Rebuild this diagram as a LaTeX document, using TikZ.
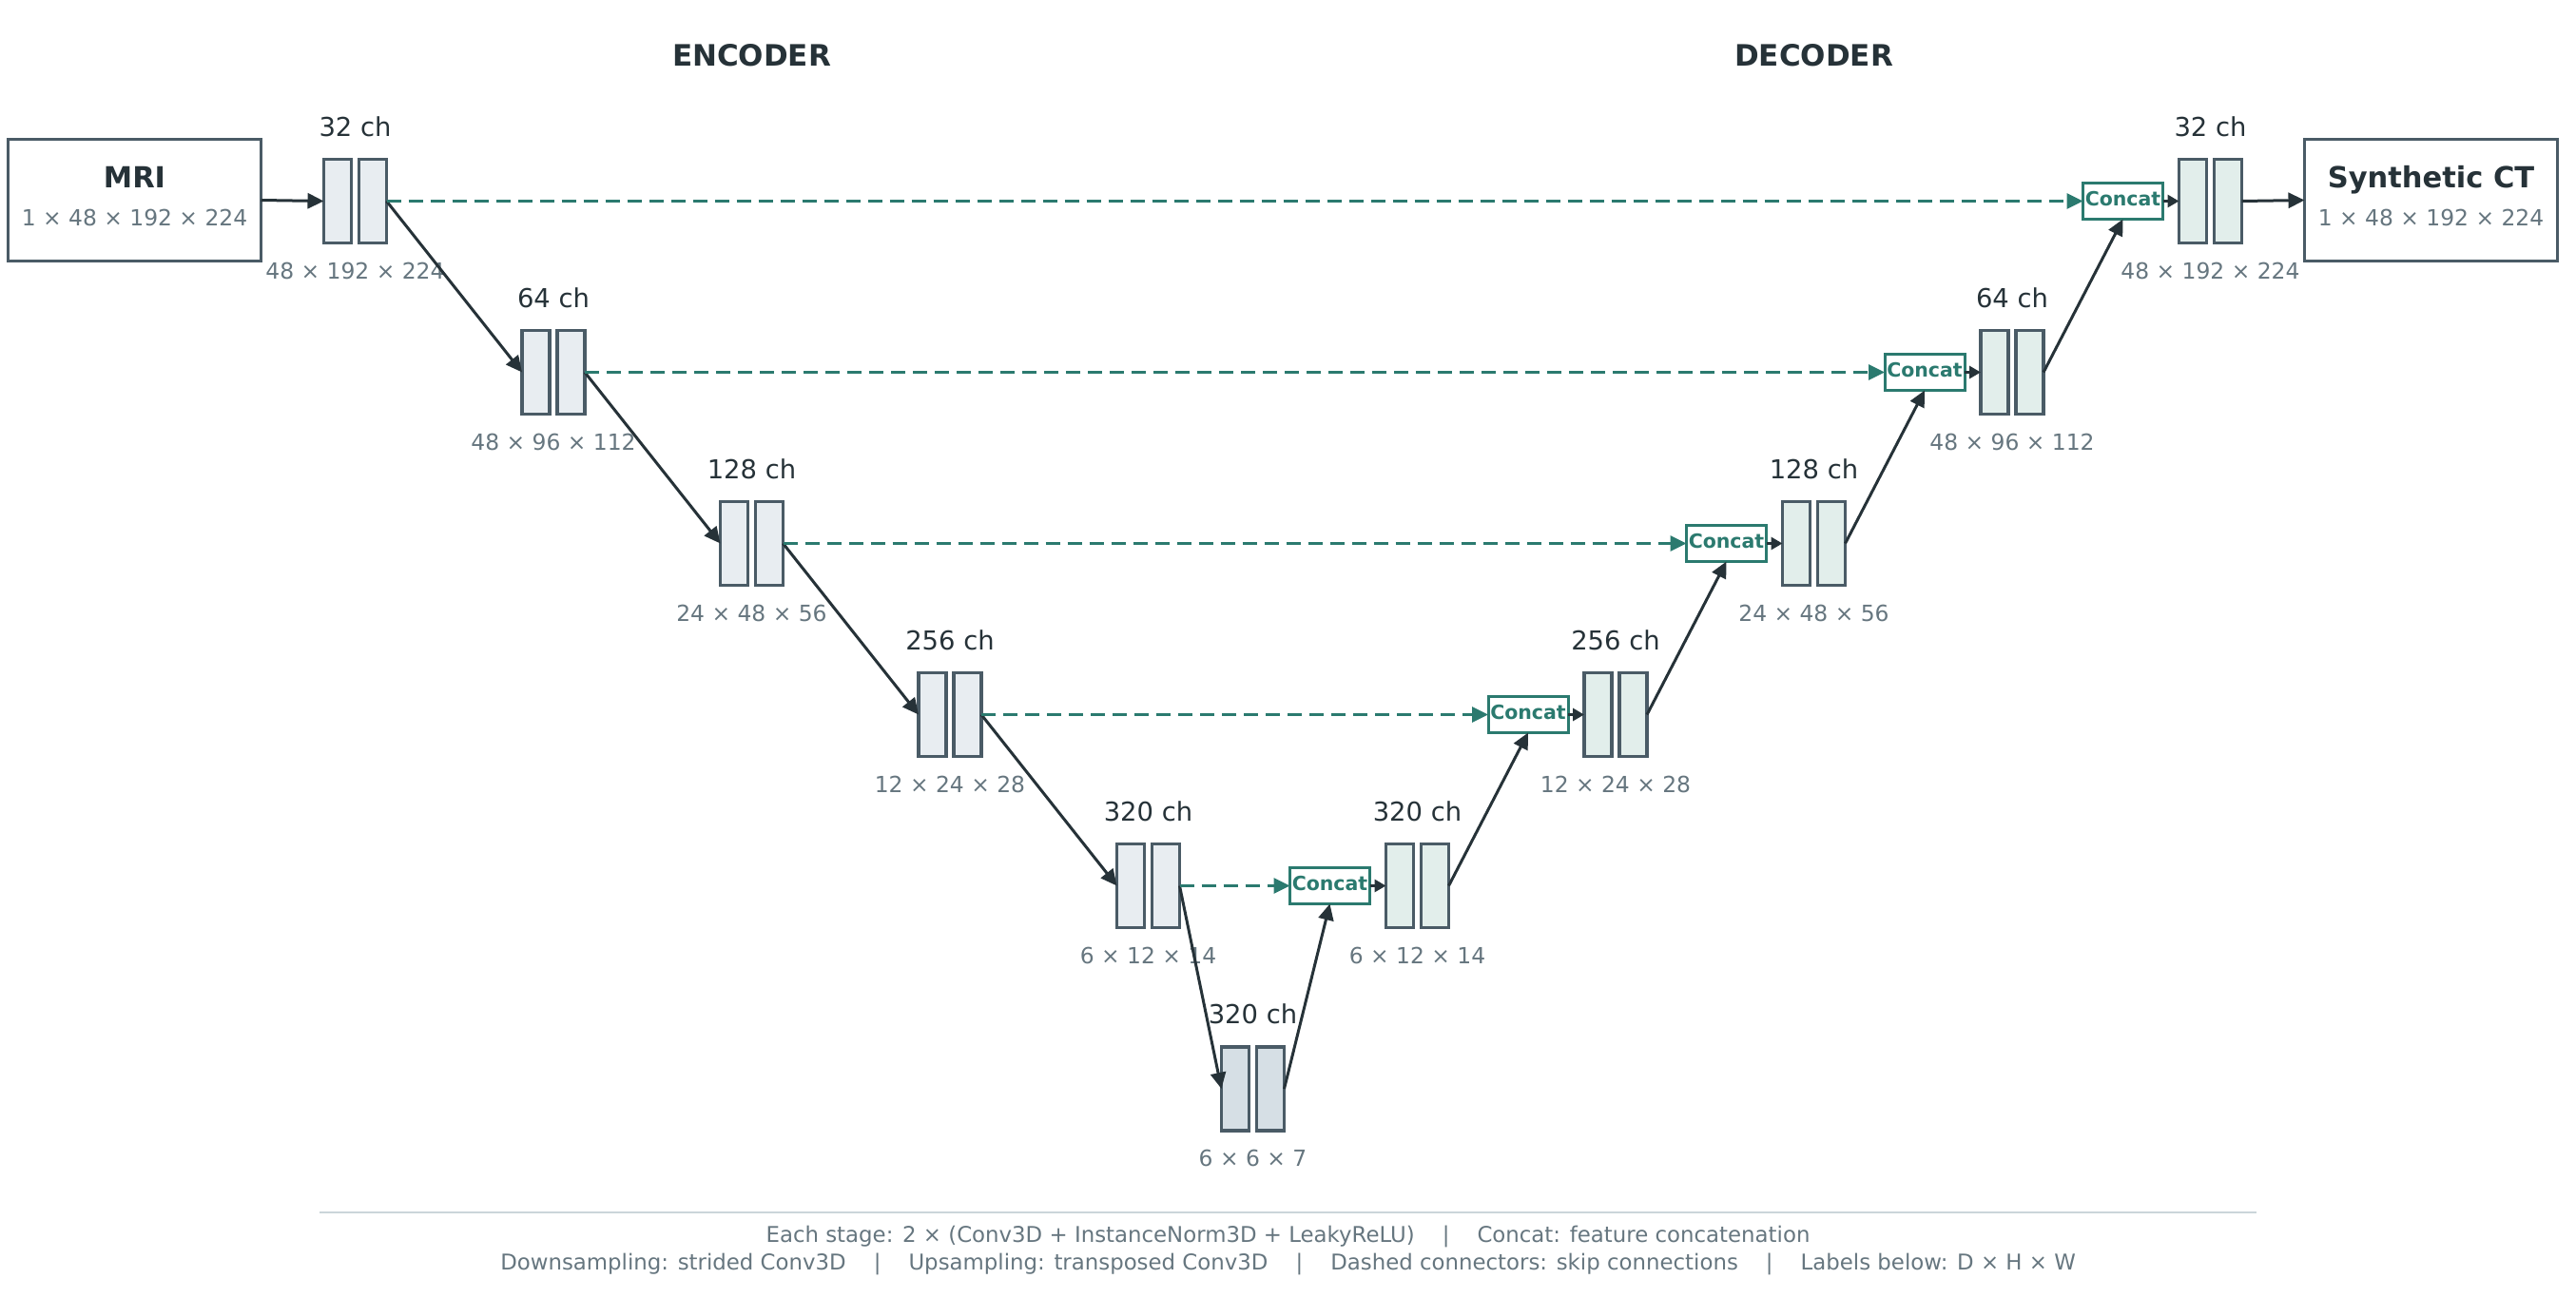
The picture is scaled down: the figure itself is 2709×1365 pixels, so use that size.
\documentclass[tikz,border=0pt]{standalone}
\usepackage{fontspec}
\setmainfont{DejaVu Sans}
\usetikzlibrary{arrows.meta}
\definecolor{ink}{HTML}{263238}
\definecolor{edgec}{HTML}{4A5B66}
\definecolor{dimc}{HTML}{66767F}
\definecolor{encfill}{HTML}{E8EDF1}
\definecolor{decfill}{HTML}{E2EEEB}
\definecolor{botfill}{HTML}{D6DFE5}
\definecolor{tealc}{HTML}{2B7A6F}
\definecolor{rulec}{HTML}{CBD5DA}
\begin{document}
\begin{tikzpicture}[x=1pt,y=-1pt,
  blk/.style={draw=edgec, line width=3.2pt, minimum width=29pt, minimum height=88pt, inner sep=0pt, outer sep=0pt},
  iobox/.style={draw=edgec, line width=3.2pt, fill=white, minimum width=266pt, minimum height=128pt, inner sep=0pt, outer sep=0pt},
  catbox/.style={draw=tealc, line width=3pt, fill=white, minimum width=84pt, minimum height=38pt, inner sep=0pt, outer sep=0pt,
    text=tealc, font=\bfseries\fontsize{20.5}{24}\selectfont, text height=15pt, text depth=5pt},
  chlab/.style={anchor=base, inner sep=0pt, text=ink, font=\fontsize{27.4}{32}\selectfont},
  dimlab/.style={anchor=base, inner sep=0pt, text=dimc, font=\fontsize{23.4}{28}\selectfont},
  iotitle/.style={anchor=base, inner sep=0pt, text=ink, font=\bfseries\fontsize{30.5}{36}\selectfont},
  sectitle/.style={anchor=base, inner sep=0pt, text=ink, font=\bfseries\fontsize{31}{36}\selectfont},
  foot/.style={anchor=base, inner sep=0pt, text=dimc, font=\fontsize{22.85}{28}\selectfont},
  arr/.style={draw=ink, line width=3pt, -{Triangle[length=17pt,width=16pt]}},
  carr/.style={draw=ink, line width=3pt, -{Triangle[length=12pt,width=13pt]}},
  skip/.style={draw=tealc, line width=3pt, dash pattern=on 15pt off 8pt, -{Triangle[length=17pt,width=16pt]}}
]
\useasboundingbox (0,0) rectangle (2709,1365);

% titles
\node[sectitle] (tenc) at (790.5,69) {ENCODER};
\node[sectitle] (tdec) at (1907.5,69) {DECODER};

% input / output boxes
\node[iobox] (mri) at (141.5,210.5) {};
\node[iotitle] (mrit) at (141.5,197) {MRI};
\node[dimlab] (mrid) at (141.5,237) {1 × 48 × 192 × 224};
\node[iobox] (sct) at (2556.5,210.5) {};
\node[iotitle] (sctt) at (2556.5,197) {Synthetic CT};
\node[dimlab] (sctd) at (2556.5,237) {1 × 48 × 192 × 224};

% encoder and decoder stages
\foreach \k/\ch/\dm in {0/32/48 × 192 × 224, 1/64/48 × 96 × 112, 2/128/24 × 48 × 56, 3/256/12 × 24 × 28, 4/320/6 × 12 × 14} {
  \pgfmathsetmacro\L{339+208.5*\k}
  \pgfmathsetmacro\D{1456+208.5*(4-\k)}
  \pgfmathsetmacro\Y{211.5+180*\k}
  \node[blk, fill=encfill] (ea\k) at (\L+16,\Y) {};
  \node[blk, fill=encfill] (eb\k) at (\L+53,\Y) {};
  \node[chlab] (ech\k) at (\L+34.5,\Y-68.5) {\ch\ ch};
  \node[dimlab] (edm\k) at (\L+34.5,\Y+81.5) {\dm};
  \node[blk, fill=decfill] (da\k) at (\D+16,\Y) {};
  \node[blk, fill=decfill] (db\k) at (\D+53,\Y) {};
  \node[chlab] (dch\k) at (\D+34.5,\Y-68.5) {\ch\ ch};
  \node[dimlab] (ddm\k) at (\D+34.5,\Y+81.5) {\dm};
  \node[catbox] (c\k) at (\D-57.5,\Y) {Concat};
}

% bottleneck
\node[blk, fill=botfill] (ba) at (1299,1145) {};
\node[blk, fill=botfill] (bb) at (1336,1145) {};
\node[chlab] (bch) at (1317.5,1076.5) {320 ch};
\node[dimlab] (bdm) at (1317.5,1226.5) {6 × 6 × 7};

% connectors
\draw[arr] (mri.east) -- (ea0.west);
\draw[arr] (db0.east) -- (sct.west);
\foreach \k in {0,...,3} {
  \pgfmathtruncatemacro\n{\k+1}
  \draw[arr] (eb\k.east) -- (ea\n.west);
  \draw[arr] (db\n.east) -- (c\k.south);
}
\draw[arr] (eb4.east) -- (ba.west);
\draw[arr] (bb.east) -- (c4.south);
\foreach \k in {0,...,4} {
  \draw[skip] (eb\k.east) -- (c\k.west);
  \draw[carr] (c\k.east) -- (da\k.west);
}

% footer
\coordinate (rl) at (336,1275);
\coordinate (rr) at (2373,1275);
\draw[rulec, line width=2pt] (rl) -- (rr);
\node[foot] (f1) at (1354.5,1306) {Each stage: 2 × (Conv3D + InstanceNorm3D + LeakyReLU)\hspace{29pt}|\hspace{29pt}Concat: feature concatenation};
\node[foot] (f2) at (1354.5,1335) {Downsampling: strided Conv3D\hspace{29pt}|\hspace{29pt}Upsampling: transposed Conv3D\hspace{29pt}|\hspace{29pt}Dashed connectors: skip connections\hspace{29pt}|\hspace{29pt}Labels below: D × H × W};
\end{tikzpicture}
\end{document}
